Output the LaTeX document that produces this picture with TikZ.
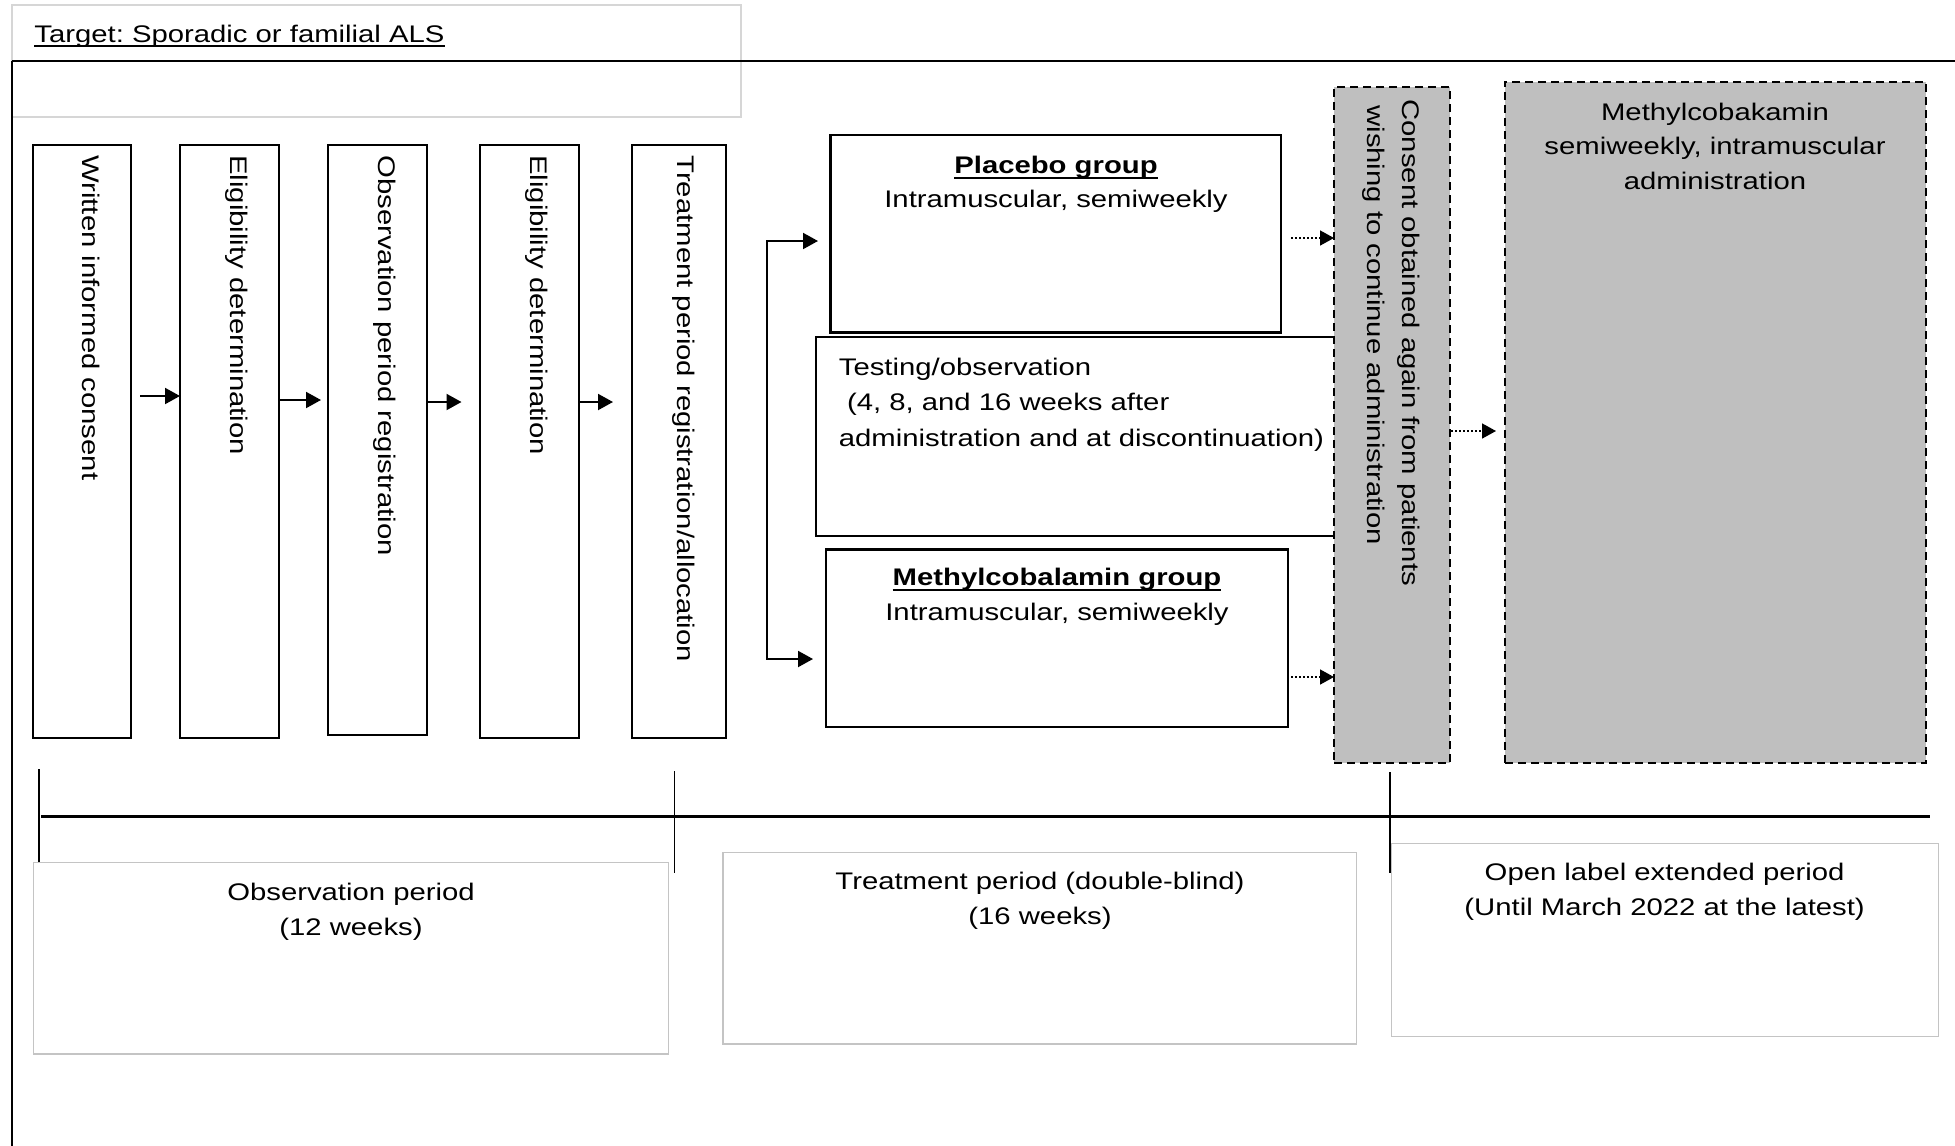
\documentclass[tikz,border=0pt]{standalone}
\usepackage{fontspec}
\setmainfont{Liberation Sans}[FakeStretch=1.22]
\usetikzlibrary{arrows.meta,calc}
\definecolor{boxgray}{HTML}{BFBFBF}
\definecolor{linegray}{HTML}{C4C4C4}
\definecolor{lightline}{HTML}{D6D6D6}
\frenchspacing
\newcommand\myul[1]{\setbox0\hbox{#1}\rlap{\rule[-2.5pt]{\wd0}{0.8pt}}\box0}
\newcommand\drawbox[6]{\node[#2, anchor=north west, inner sep=0pt, outer sep=0pt, minimum width={(#5-#3)*0.5pt}, minimum height={(#6-#4)*0.5pt}] (#1) at (#3,#4) {};}
\begin{document}
\begin{tikzpicture}[x=0.5pt,y=-0.5pt, font=\fontsize{12}{17.5}\selectfont,
  stepbox/.style={draw=black, line width=1.1pt},
  dashbox/.style={draw=black, fill=boxgray, line width=1pt, dash pattern=on 4pt off 2.5pt},
  periodbox/.style={draw=linegray, line width=0.6pt},
  topbox/.style={draw=lightline, line width=0.6pt},
  vtext/.style={rotate=-90, anchor=base west, inner sep=0pt},
  ctext/.style={anchor=base, inner sep=0pt},
  ltext/.style={anchor=base west, inner sep=0pt},
  tip/.style={-{Triangle[length=7.5pt,width=8pt]}},
  arr/.style={line width=1pt, tip},
  dotarr/.style={line width=0.8pt, dash pattern=on 0.8pt off 1.2pt, -{Triangle[length=7pt,width=7.5pt]}},
  ]
\useasboundingbox (0,0) rectangle (1955,1146);
% header box and frame
\drawbox{tgtbox}{topbox}{12}{5}{741}{117}
\node[ltext] (tgt) at (34,42) {\myul{Target: Sporadic or familial ALS}};
\draw[line width=1.3pt] (12,61) -- (1955,61);
\draw[line width=1pt] (12,61) -- (12,1146);
% vertical step boxes
\drawbox{B1}{stepbox}{33}{145}{131}{738}
\drawbox{B2}{stepbox}{180}{145}{279}{738}
\drawbox{B3}{stepbox}{328}{145}{427}{735}
\drawbox{B4}{stepbox}{480}{145}{579}{738}
\drawbox{B5}{stepbox}{632}{145}{726}{738}
\node[vtext] (B1t) at (82,155) {Written informed consent};
\node[vtext] (B2t) at (230,155) {Eligibility determination};
\node[vtext] (B3t) at (378,155) {Observation period registration};
\node[vtext] (B4t) at (530,155) {Eligibility determination};
\node[vtext] (B5t) at (677,155) {Treatment period registration/allocation};
\coordinate (a1) at (0,396);
\coordinate (a2) at (0,400);
\coordinate (a3) at (0,402);
\draw[arr, shorten <=4.5pt] (B1.east|-a1) -- (B2.west|-a1);
\draw[arr, shorten >=3.5pt] (B2.east|-a2) -- (B3.west|-a2);
\draw[arr, shorten >=9.25pt] (B3.east|-a3) -- (B4.west|-a3);
\draw[arr, shorten >=9.5pt] (B4.east|-a3) -- (B5.west|-a3);
% group boxes
\drawbox{P}{stepbox}{830.5}{135.3}{1281.3}{332.4}
\drawbox{T}{stepbox}{816}{336.6}{1345}{536.2}
\drawbox{M}{stepbox}{826}{549.5}{1288.3}{726.6}
\node[ctext] (Pt1) at (1056,173.5) {\myul{\textbf{Placebo group}}};
\node[ctext] (Pt2) at (1056,207.5) {Intramuscular, semiweekly};
\node[ltext] (Tt1) at (838.5,375) {Testing/observation};
\node[ltext] (Tt2) at (838.5,410) {~(4, 8, and 16 weeks after};
\node[ltext] (Tt3) at (838.5,446) {administration and at discontinuation)};
\node[ctext] (Mt1) at (1057,585.5) {\myul{\textbf{Methylcobalamin group}}};
\node[ctext] (Mt2) at (1057,620.5) {Intramuscular, semiweekly};
% allocation bracket
\coordinate (brT) at (767.4,241);
\coordinate (brB) at (767.4,659);
\draw[line width=1pt, {Triangle[length=7.5pt,width=8pt]}-{Triangle[length=7.5pt,width=8pt]}, shorten <=6.25pt, shorten >=6.5pt]
  (P.west|-brT) -- (brT) -- (brB) -- (M.west|-brB);
% open-label boxes
\drawbox{C}{dashbox}{1334}{87.3}{1450.4}{762.5}
\drawbox{G}{dashbox}{1505}{81.6}{1925.7}{763.4}
\node[vtext] (Ct1) at (1402,99) {Consent obtained again from patients};
\node[vtext] (Ct2) at (1367,105) {wishing to continue administration};
\node[ctext] (Gt1) at (1715,120) {Methylcobakamin};
\node[ctext] (Gt2) at (1715,154.5) {semiweekly, intramuscular};
\node[ctext] (Gt3) at (1715,189.5) {administration};
\coordinate (d1) at (0,238);
\coordinate (d2) at (0,677);
\coordinate (d3) at (0,431);
\draw[dotarr, shorten <=5pt] (P.east|-d1) -- (C.west|-d1);
\draw[dotarr, shorten <=1.5pt] (M.east|-d2) -- (C.west|-d2);
\draw[dotarr, shorten <=0.5pt, shorten >=4.5pt] (C.east|-d3) -- (G.west|-d3);
% timeline
\draw[line width=1.4pt] (41,816.7) -- (1930,816.7);
\draw[line width=0.85pt] (38.7,769) -- (38.7,862);
\draw[line width=0.85pt] (674.6,771) -- (674.6,873);
\draw[line width=0.85pt] (1390.3,772) -- (1390.3,873);
% period boxes
\drawbox{O}{periodbox}{33.7}{862.7}{668.3}{1054}
\drawbox{Tr}{periodbox}{723}{852.3}{1356.7}{1044}
\drawbox{Op}{periodbox}{1391.7}{843.3}{1938.3}{1036.7}
\node[ctext] (Ot1) at (351,900) {Observation period};
\node[ctext] (Ot2) at (351,935) {(12 weeks)};
\node[ctext] (Trt1) at (1040,889) {Treatment period (double-blind)};
\node[ctext] (Trt2) at (1040,924) {(16 weeks)};
\node[ctext] (Opt1) at (1664.6,880) {Open label extended period};
\node[ctext] (Opt2) at (1664.6,915) {(Until March 2022 at the latest)};
\end{tikzpicture}
\end{document}
